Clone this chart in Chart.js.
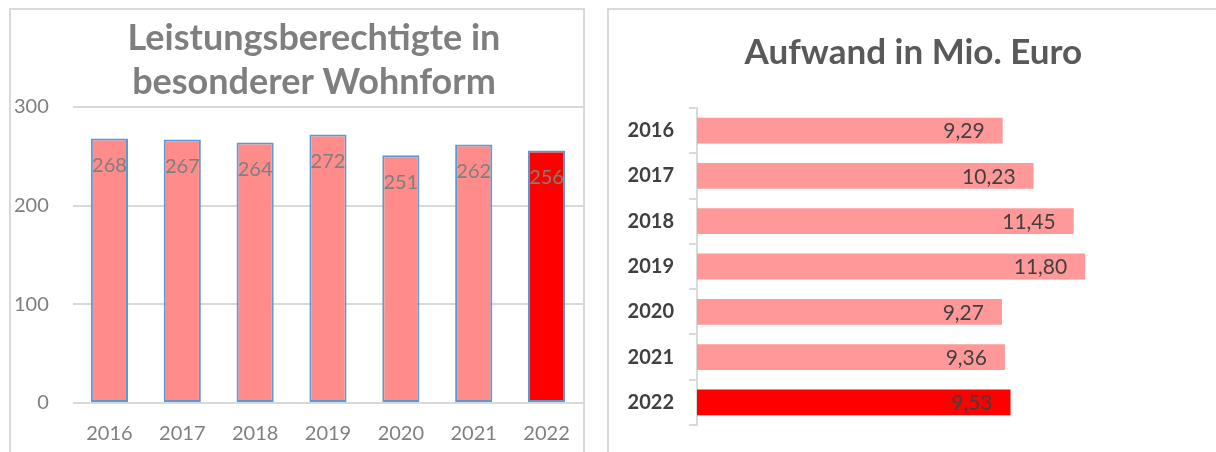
<!DOCTYPE html>
<html>
<head>
<meta charset="utf-8">
<script src="https://cdn.jsdelivr.net/npm/chart.js@4/dist/chart.umd.min.js"></script>
<style>
  html, body { margin: 0; padding: 0; background: #fff; }
  body { width: 1216px; height: 452px; position: relative; overflow: hidden; }
  .panel { position: absolute; border: 2px solid #d9d9d9; box-sizing: border-box; }
  #leftPanel { left: 9px; top: 8px; width: 576px; height: 470px; }
  #rightPanel { left: 607px; top: 8px; width: 640px; height: 470px; }
  .wrap { position: absolute; }
  #leftWrap { left: 10px; top: 10px; width: 574px; height: 442px; }
  #rightWrap { left: 600px; top: 10px; width: 630px; height: 442px; }
</style>
</head>
<body>
<div class="panel" id="leftPanel"></div>
<div class="panel" id="rightPanel"></div>
<div class="wrap" id="leftWrap"><canvas id="personsChart"></canvas></div>
<div class="wrap" id="rightWrap"><canvas id="costChart"></canvas></div>
<script>
const years = ["2016", "2017", "2018", "2019", "2020", "2021", "2022"];
const recipients = [268, 267, 264, 272, 251, 262, 256];
const costMillions = [9.29, 10.23, 11.45, 11.80, 9.27, 9.36, 9.53];
const recipientTicks = [0, 100, 200, 300];

const FONT = "Lato, 'Open Sans', sans-serif";
const pink = "#ff8b8b";
const lightPink = "#ff9999";
const red = "#ff0000";

// last year is highlighted in red
const barColors = (base) => years.map((y, i) => i === years.length - 1 ? red : base);

const valueLabels = (font, color, format, offset) => ({
    id: "valueLabels",
    afterDatasetsDraw(chart) {
        const ctx = chart.ctx;
        const values = chart.data.datasets[0].data;
        const horizontal = chart.options.indexAxis === "y";
        ctx.save();
        ctx.font = font;
        ctx.fillStyle = color;
        ctx.textBaseline = "middle";
        chart.getDatasetMeta(0).data.forEach((bar, i) => {
            const text = format(values[i]);
            if (horizontal) {
                ctx.textAlign = "right";
                ctx.fillText(text, bar.x - offset, bar.y + 1);
            } else {
                ctx.textAlign = "center";
                ctx.fillText(text, bar.x, bar.y + offset);
            }
        });
        ctx.restore();
    }
});

new Chart(document.getElementById("personsChart"), {
    type: "bar",
    data: {
        labels: years,
        datasets: [{
            data: recipients,
            backgroundColor: barColors(pink),
            borderColor: "#5b9bd5",
            borderWidth: 2,
            borderSkipped: false,
            categoryPercentage: 1,
            barPercentage: 0.51
        }]
    },
    options: {
        responsive: true,
        maintainAspectRatio: false,
        animation: false,
        layout: { padding: { left: 35, right: 1, top: 0, bottom: 0 } },
        plugins: {
            legend: { display: false },
            tooltip: { enabled: false },
            title: {
                display: true,
                text: ["Leistungsberechtigte in", "besonderer Wohnform"],
                color: "#7f7f7f",
                font: { family: FONT, size: 36, weight: "bold", lineHeight: 1.208 },
                padding: { top: 7, bottom: 3 }
            }
        },
        scales: {
            x: {
                grid: { display: false, drawTicks: false },
                border: { display: false },
                ticks: { color: "#7f7f7f", font: { family: FONT, size: 20, lineHeight: 2.64 }, padding: 4 },
                afterFit: (scale) => { scale.height = 49; }
            },
            y: {
                min: 0,
                max: 300,
                afterBuildTicks: (scale) => { scale.ticks = recipientTicks.map(v => ({ value: v })); },
                grid: { color: "#d9d9d9", lineWidth: 2, drawTicks: false },
                border: { display: false },
                // mirrored so the labels are not clipped to the narrow axis box
                ticks: { color: "#7f7f7f", font: { family: FONT, size: 20 }, mirror: true, crossAlign: "far", padding: -59 },
                afterFit: (scale) => { scale.width = 28; }
            }
        }
    },
    plugins: [valueLabels("20px " + FONT, "#7f7f7f", (v) => String(v), 27)]
});

new Chart(document.getElementById("costChart"), {
    type: "bar",
    data: {
        labels: years,
        datasets: [{
            data: costMillions,
            backgroundColor: barColors(lightPink),
            borderWidth: 0,
            categoryPercentage: 1,
            barPercentage: 0.57
        }]
    },
    options: {
        indexAxis: "y",
        responsive: true,
        maintainAspectRatio: false,
        animation: false,
        layout: { padding: { left: 3.4, right: 6.6, top: 0, bottom: 26 } },
        plugins: {
            legend: { display: false },
            tooltip: { enabled: false },
            title: {
                display: true,
                text: "Aufwand in Mio. Euro",
                color: "#595959",
                font: { family: FONT, size: 35, weight: "bold", lineHeight: 1.2 },
                padding: { top: 22, bottom: 34 }
            }
        },
        scales: {
            x: { display: false, min: 0, max: 16 },
            y: {
                grid: { drawOnChartArea: false, color: "#d9d9d9", lineWidth: 2, tickLength: 8 },
                border: { display: true, color: "#d9d9d9", width: 2 },
                ticks: { color: "#404040", font: { family: FONT, size: 20, weight: "bold" }, padding: 15 },
                afterFit: (scale) => { scale.width = 93.6; }
            }
        }
    },
    plugins: [valueLabels("21px " + FONT, "#404040", (v) => v.toFixed(2).replace(".", ","), 18)]
});
</script>
</body>
</html>
